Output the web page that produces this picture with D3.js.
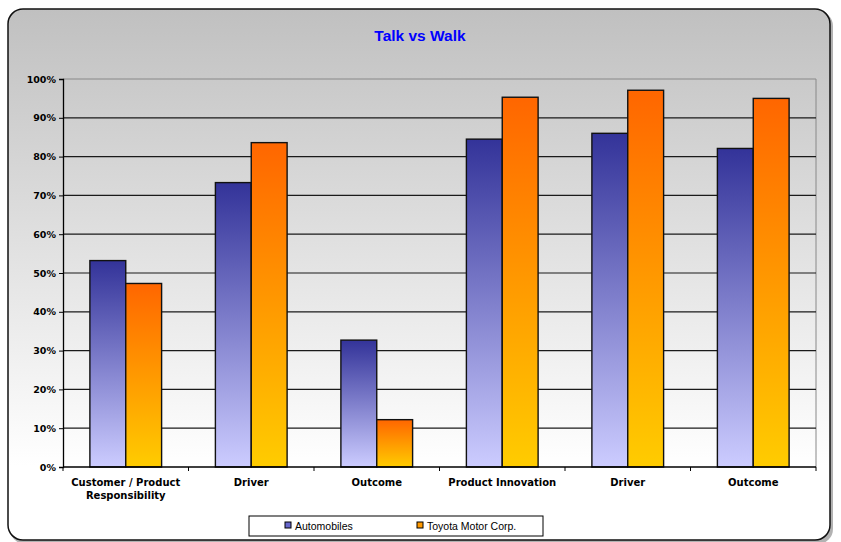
<!DOCTYPE html>
<html>
<head>
<meta charset="utf-8">
<script src="https://cdn.jsdelivr.net/npm/d3@7"></script>
<style>
body { margin:0; background:#fff; }
text { font-family: "Liberation Sans", Arial, sans-serif; }
</style>
</head>
<body>
<div id="chart"></div>
<script>
var categories = ["Customer / Product|Responsibility", "Driver", "Outcome", "Product Innovation", "Driver", "Outcome"];
var seriesNames = ["Automobiles", "Toyota Motor Corp."];
var automobiles = [0.532, 0.733, 0.327, 0.845, 0.860, 0.821];
var toyota = [0.473, 0.836, 0.122, 0.953, 0.971, 0.950];
var yTicks = [0, 0.1, 0.2, 0.3, 0.4, 0.5, 0.6, 0.7, 0.8, 0.9, 1.0];

var W = 841, H = 542;
var margin = {top: 79, right: 25, bottom: 75, left: 63};
var width = W - margin.left - margin.right,
    height = H - margin.top - margin.bottom;

var svg = d3.select("#chart").append("svg")
    .attr("width", W).attr("height", H);

var defs = svg.append("defs");
function grad(id, top, bottom, stop) {
  var g = defs.append("linearGradient").attr("id", id)
    .attr("x1", 0).attr("y1", 0).attr("x2", 0).attr("y2", 1);
  g.append("stop").attr("offset", "0%").attr("stop-color", top);
  g.append("stop").attr("offset", stop || "100%").attr("stop-color", bottom);
}
grad("bg", "#c0c0c0", "#ffffff", "86%");
grad("blue", "#333399", "#ccccff");
grad("orange", "#ff6600", "#ffcc00");

// chart area
svg.append("rect").attr("x", 10).attr("y", 11).attr("width", 823).attr("height", 533)
  .attr("rx", 15).attr("fill", "#666").attr("opacity", 0.5);
svg.append("rect").attr("x", 8).attr("y", 9).attr("width", 822).attr("height", 531)
  .attr("rx", 15).attr("fill", "url(#bg)").attr("stroke", "#111").attr("stroke-width", 1.5);

svg.append("text").attr("x", 420).attr("y", 41).attr("text-anchor", "middle")
  .style("font-size", "15.5px").style("font-weight", "bold").attr("fill", "#0000ff")
  .text("Talk vs Walk");

var g = svg.append("g").attr("transform", "translate(" + margin.left + "," + margin.top + ")");

var x0 = d3.scaleBand().domain(d3.range(categories.length)).range([0, width]).paddingInner(0).paddingOuter(0);
var x1 = d3.scaleBand().domain([0, 1]).range([0, x0.bandwidth()]).paddingOuter(0.75).paddingInner(0);
var y = d3.scaleLinear().domain([0, 1]).range([height, 0]);

// plot border (top and right)
g.append("path").attr("d", "M0,0H" + width + "V" + height)
  .attr("fill", "none").attr("stroke", "#888").attr("stroke-width", 1);

// gridlines
g.selectAll(".grid").data(yTicks.slice(1, -1)).enter().append("line")
  .attr("x1", 0).attr("x2", width)
  .attr("y1", function(d) { return y(d); }).attr("y2", function(d) { return y(d); })
  .attr("stroke", "#1a1a1a").attr("stroke-width", 1.2);

// bars
var data = [];
categories.forEach(function(c, i) {
  data.push({i: i, s: 0, v: automobiles[i]});
  data.push({i: i, s: 1, v: toyota[i]});
});
g.selectAll(".bar").data(data).enter().append("rect")
  .attr("x", function(d) { return x0(d.i) + x1(d.s); })
  .attr("width", x1.bandwidth())
  .attr("y", function(d) { return y(d.v); })
  .attr("height", function(d) { return height - y(d.v); })
  .attr("fill", function(d) { return d.s === 0 ? "url(#blue)" : "url(#orange)"; })
  .attr("stroke", "#111").attr("stroke-width", 1.4);

// y axis
var yAxis = g.append("g").call(d3.axisLeft(y).tickValues(yTicks).tickSize(4).tickFormat(d3.format(".0%")));
yAxis.select(".domain").attr("stroke", "#000").attr("stroke-width", 1.3);
yAxis.selectAll(".tick line").attr("stroke", "#000");
yAxis.selectAll("text").attr("x", -7).style("font-size", "9.5px").style("font-weight", "bold")
  .attr("fill", "#000").style("font-family", "'DejaVu Sans', Verdana, sans-serif");

// x axis
var xb = g.append("g").attr("transform", "translate(0," + height + ")");
xb.append("line").attr("x1", 0).attr("x2", width).attr("stroke", "#000").attr("stroke-width", 1.3);
xb.selectAll(".xt").data(d3.range(categories.length + 1)).enter().append("line")
  .attr("x1", function(d) { return d * x0.step(); }).attr("x2", function(d) { return d * x0.step(); })
  .attr("y1", 0).attr("y2", 4).attr("stroke", "#000");
xb.selectAll(".xl").data(categories).enter().append("text")
  .attr("text-anchor", "middle")
  .attr("transform", function(d, i) { return "translate(" + (x0(i) + x0.bandwidth() / 2) + ",19)"; })
  .style("font-size", "10px").style("font-weight", "bold").attr("fill", "#000")
  .style("font-family", "'DejaVu Sans', Verdana, sans-serif")
  .each(function(d) {
    var t = d3.select(this);
    d.split("|").forEach(function(line, k) {
      t.append("tspan").attr("x", 0).attr("dy", k === 0 ? 0 : 13).text(line);
    });
  });

// legend
var lg = svg.append("g").attr("transform", "translate(249,516)");
lg.append("rect").attr("width", 294).attr("height", 20).attr("fill", "#fff").attr("stroke", "#000");
var items = [{x: 36, c: "#6666cc"}, {x: 168, c: "#ff9900"}];
items.forEach(function(it, i) {
  lg.append("rect").attr("x", it.x).attr("y", 6).attr("width", 6).attr("height", 6)
    .attr("fill", it.c).attr("stroke", "#000").attr("stroke-width", 1);
  lg.append("text").attr("x", it.x + 10).attr("y", 13.5)
    .style("font-size", "10.5px").attr("fill", "#000").text(seriesNames[i]);
});
</script>
</body>
</html>
